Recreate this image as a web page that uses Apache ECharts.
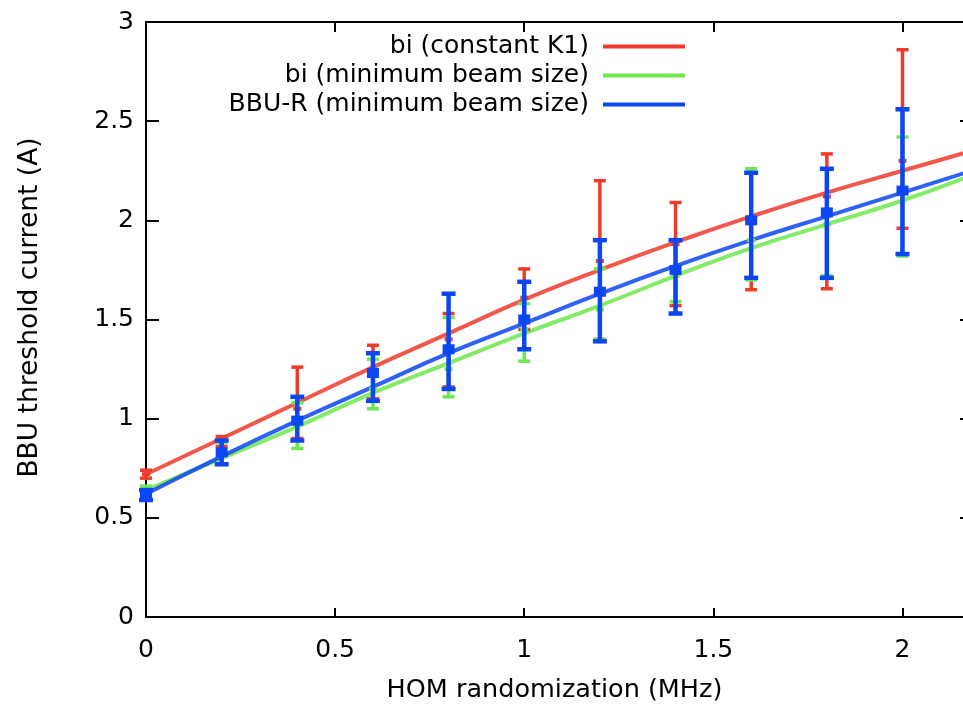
<!DOCTYPE html>
<html>
<head>
<meta charset="utf-8">
<script src="https://cdn.jsdelivr.net/npm/echarts@6/dist/echarts.min.js"></script>
<style>
html,body{margin:0;padding:0;background:#fff;}
#chart{width:963px;height:704px;}
</style>
</head>
<body>
<div id="chart"></div>
<script>
// ---- data ----
const seriesNames = ['bi (constant K1)', 'bi (minimum beam size)', 'BBU-R (minimum beam size)'];
const xTicks = [0, 0.5, 1, 1.5, 2];
const yTicks = [0, 0.5, 1, 1.5, 2, 2.5, 3];

// smooth model curves
const curveX = [0, 0.2, 0.4, 0.6, 0.8, 1.0, 1.2, 1.4, 1.6, 1.8, 2.0, 2.2];
const redCurve   = [0.72, 0.90, 1.08, 1.26, 1.43, 1.60, 1.75, 1.89, 2.02, 2.14, 2.25, 2.36];
const greenCurve = [0.64, 0.80, 0.96, 1.13, 1.28, 1.43, 1.57, 1.72, 1.86, 1.98, 2.10, 2.24];
const blueCurve  = [0.62, 0.81, 0.99, 1.16, 1.33, 1.48, 1.63, 1.77, 1.90, 2.02, 2.14, 2.26];

// simulation points with error bars
const pointX = [0, 0.2, 0.4, 0.6, 0.8, 1.0, 1.2, 1.4, 1.6, 1.8, 2.0];
const redMid  = [0.72, 0.89, 1.05, 1.25, 1.40, 1.61, 1.795, 1.88, 2.00, 2.12, 2.30];
const redLow  = [0.70, 0.86, 0.90, 1.10, 1.16, 1.45, 1.40, 1.57, 1.65, 1.655, 1.96];
const redHigh = [0.74, 0.91, 1.26, 1.37, 1.53, 1.755, 2.20, 2.09, 2.24, 2.335, 2.86];

const greenMid  = [0.64, 0.82, 0.97, 1.15, 1.25, 1.45, 1.55, 1.72, 1.90, 1.98, 2.15];
const greenLow  = [0.62, 0.77, 0.85, 1.05, 1.11, 1.29, 1.40, 1.59, 1.70, 1.72, 1.82];
const greenHigh = [0.66, 0.88, 1.08, 1.30, 1.51, 1.58, 1.755, 1.90, 2.26, 2.26, 2.42];

const blueMid  = [0.61, 0.83, 0.99, 1.23, 1.35, 1.50, 1.64, 1.75, 2.00, 2.04, 2.15];
const blueLow  = [0.59, 0.77, 0.89, 1.09, 1.15, 1.35, 1.39, 1.53, 1.71, 1.71, 1.83];
const blueHigh = [0.64, 0.89, 1.11, 1.33, 1.63, 1.69, 1.90, 1.90, 2.24, 2.26, 2.56];

// ---- build ----
const RED = '#ef3b2c', GREEN = '#6ee84f', BLUE = '#0a46f2';
const FONT = 'DejaVu Sans';
const X_MAX = 2.16, Y_MAX = 3;

function pairs(xs, ys) { return xs.map((x, i) => [x, ys[i]]); }
function errData(mid, lo, hi) { return pointX.map((x, i) => [x, mid[i], lo[i], hi[i]]); }

function errRender(color, lw, cap, mw, mh) {
  return function (params, api) {
    const x = api.value(0);
    const pC = api.coord([x, api.value(1)]);
    const pL = api.coord([x, api.value(2)]);
    const pH = api.coord([x, api.value(3)]);
    const st = { stroke: color, lineWidth: lw };
    return {
      type: 'group',
      children: [
        { type: 'line', shape: { x1: pH[0], y1: pH[1], x2: pL[0], y2: pL[1] }, style: st },
        { type: 'line', shape: { x1: pH[0] - cap, y1: pH[1], x2: pH[0] + cap, y2: pH[1] }, style: st },
        { type: 'line', shape: { x1: pL[0] - cap, y1: pL[1], x2: pL[0] + cap, y2: pL[1] }, style: st },
        { type: 'rect', shape: { x: pC[0] - mw / 2, y: pC[1] - mh / 2, width: mw, height: mh }, style: { fill: color } }
      ]
    };
  };
}

function curve(name, xs, ys, color) {
  return {
    name: name, type: 'line', data: pairs(xs, ys), smooth: true, showSymbol: false, symbol: 'none',
    lineStyle: { color: color, width: 4, opacity: 0.85 }, itemStyle: { color: color },
    xAxisIndex: 0, yAxisIndex: 0, silent: true, z: 2
  };
}
function errSeries(name, mid, lo, hi, color, lw, cap, mw, mh, z) {
  return {
    name: name, type: 'custom', data: errData(mid, lo, hi),
    renderItem: errRender(color, lw, cap, mw, mh),
    encode: { x: 0, y: [1, 2, 3] }, xAxisIndex: 0, yAxisIndex: 0, z: z, silent: true
  };
}

const tickStyle = { color: '#000', width: 2 };

const option = {
  backgroundColor: '#fff',
  animation: false,
  grid: { left: 146, top: 22, right: 0, bottom: 87, show: false, containLabel: false, outerBoundsMode: 'none' },
  legend: {
    data: seriesNames,
    orient: 'vertical', align: 'right',
    right: 278, top: 34, padding: 0,
    icon: 'rect', itemWidth: 82, itemHeight: 4, itemGap: 4,
    textStyle: { fontFamily: FONT, fontSize: 25, color: '#000', lineHeight: 24, padding: [0, 9, 0, 0] }
  },
  xAxis: [
    {
      type: 'value', min: 0, max: X_MAX, position: 'bottom',
      name: 'HOM randomization (MHz)', nameLocation: 'middle', nameGap: 60,
      nameTextStyle: { fontFamily: FONT, fontSize: 25.5, color: '#000' },
      axisLine: { show: true, onZero: false, lineStyle: { color: '#000', width: 2 } },
      axisTick: { show: true, inside: true, length: 9, customValues: xTicks, lineStyle: tickStyle },
      axisLabel: { fontFamily: FONT, fontSize: 25, color: '#000', margin: 21, customValues: xTicks,
        formatter: v => String(v) },
      splitLine: { show: false }
    },
    {
      type: 'value', min: 0, max: X_MAX, position: 'top',
      axisLine: { show: true, onZero: false, lineStyle: { color: '#000', width: 2 } },
      axisTick: { show: true, inside: true, length: 10, customValues: xTicks, lineStyle: tickStyle },
      axisLabel: { show: false, customValues: xTicks }, splitLine: { show: false }
    }
  ],
  yAxis: [
    {
      type: 'value', min: 0, max: Y_MAX, interval: 0.5, position: 'left',
      name: 'BBU threshold current (A)', nameLocation: 'middle', nameGap: 102,
      nameTextStyle: { fontFamily: FONT, fontSize: 26.5, color: '#000', padding: [0, 0, 0, 24] },
      axisLine: { show: true, onZero: false, lineStyle: { color: '#000', width: 2 } },
      axisTick: { show: true, inside: true, length: 13, customValues: yTicks, lineStyle: tickStyle },
      axisLabel: { fontFamily: FONT, fontSize: 25, color: '#000', margin: 12, customValues: yTicks,
        formatter: v => String(v) },
      splitLine: { show: false }
    },
    {
      type: 'value', min: 0, max: Y_MAX, interval: 0.5, position: 'right',
      axisLine: { show: false, onZero: false },
      axisTick: { show: true, inside: true, length: 3, customValues: yTicks, lineStyle: tickStyle },
      axisLabel: { show: false, customValues: yTicks }, splitLine: { show: false }
    }
  ],
  series: [
    curve(seriesNames[0], curveX, redCurve, RED),
    curve(seriesNames[1], curveX, greenCurve, GREEN),
    curve(seriesNames[2], curveX, blueCurve, BLUE),
    errSeries('err-red', redMid, redLow, redHigh, RED, 3.5, 6, 8, 4, 3),
    errSeries('err-green', greenMid, greenLow, greenHigh, GREEN, 3.5, 6, 8, 4, 4),
    errSeries('err-blue', blueMid, blueLow, blueHigh, BLUE, 4.5, 7, 12, 10, 5)
  ]
};

const chart = echarts.init(document.getElementById('chart'), null, { renderer: 'canvas' });
chart.setOption(option);
</script>
</body>
</html>
